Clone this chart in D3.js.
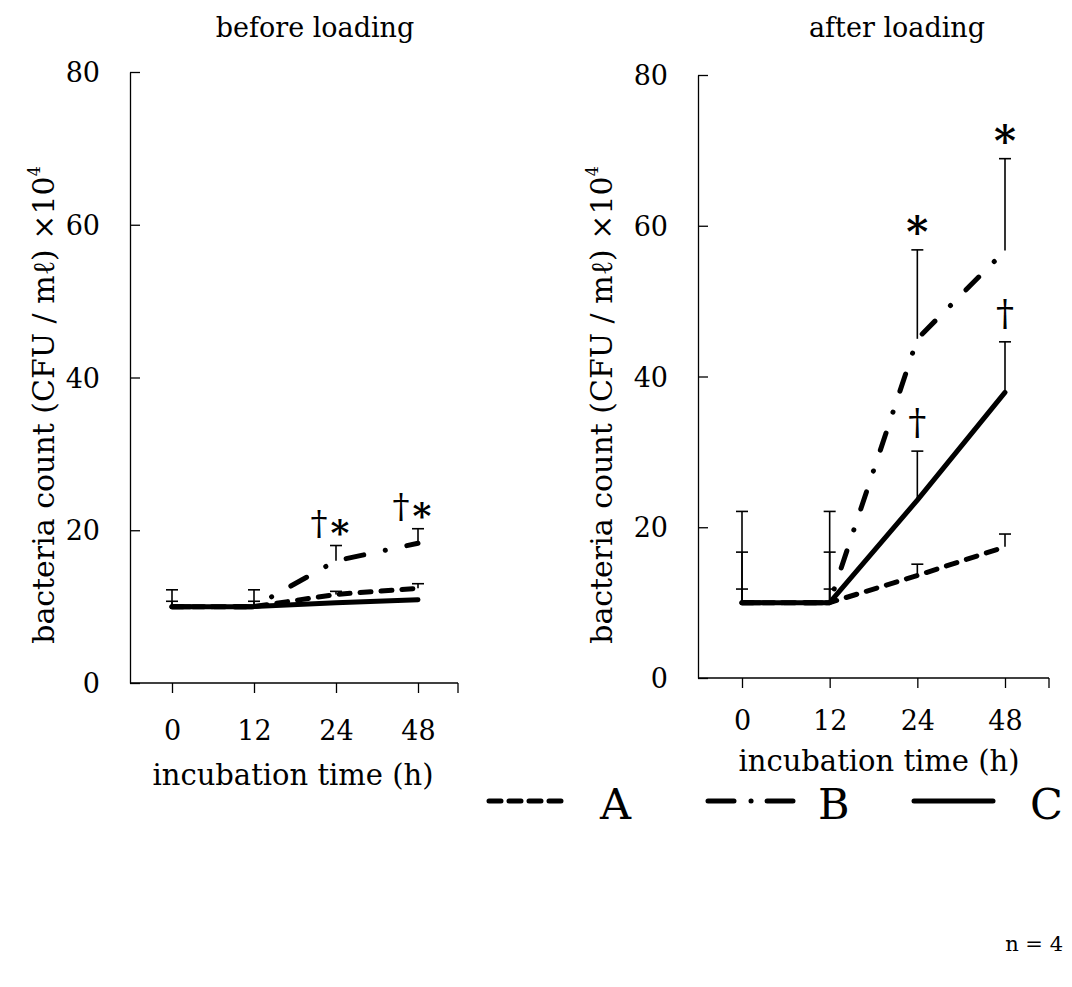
<!DOCTYPE html>
<html>
<head>
<meta charset="utf-8">
<script src="https://cdn.jsdelivr.net/npm/d3@7"></script>
<style>
  html, body { margin: 0; padding: 0; background: #fff; }
  svg { display: block; }
  text { font-family: "DejaVu Serif", serif; fill: #000; }
</style>
</head>
<body>
<svg id="chart" width="1072" height="987"></svg>
<script>
// ---------- data ----------
const times = ["0", "12", "24", "48"];
const yTicks = [0, 20, 40, 60, 80];
const seriesNames = ["A", "B", "C"];

// before loading (means and SD)
const beforeA = [10, 10, 11.6, 12.4];
const beforeB = [10, 10, 16.0, 18.3];
const beforeC = [10, 10, 10.5, 10.9];
const beforeErrA = [0.7, 0.7, 0.4, 0.6];
const beforeErrB = [2.2, 2.2, 2.0, 1.9];
const beforeErrC = [0, 0, 0, 0];

// after loading (means and SD)
const afterA = [10, 10, 13.6, 17.4];
const afterB = [10, 10, 45.0, 56.7];
const afterC = [10, 10, 23.6, 37.9];
const afterErrA = [1.8, 1.8, 1.5, 1.7];
const afterErrB = [12.1, 12.1, 11.8, 12.2];
const afterErrC = [6.7, 6.7, 6.5, 6.7];

// significance marks: [time, series, symbol]
const beforeMarks = [["24", "B", "†"], ["24", "B", "*"], ["48", "B", "†"], ["48", "B", "*"]];
const afterMarks = [["24", "B", "*"], ["48", "B", "*"], ["24", "C", "†"], ["48", "C", "†"]];

// ---------- styles ----------
const styles = {
  A: { dash: "11,10", width: 5 },
  B: { dash: "18,22,0.1,22", width: 5 },
  C: { dash: null, width: 5 }
};

const svg = d3.select("#chart");

function panel(cfg) {
  const g = svg.append("g");
  const x = d3.scalePoint().domain(times).range([cfg.x0, cfg.x1]);
  const y = d3.scaleLinear().domain([0, 80]).range([cfg.yBottom, cfg.yTop]);

  // y axis
  const yAxis = d3.axisLeft(y).tickValues(yTicks).tickSizeInner(-10).tickSizeOuter(0).tickPadding(0);
  const ya = g.append("g").attr("transform", `translate(${cfg.axisX},0)`).call(yAxis);
  ya.select(".domain").attr("stroke", "#000").attr("stroke-width", 1.3);
  ya.selectAll(".tick line").attr("stroke", "#000").attr("stroke-width", 1.3);
  ya.selectAll(".tick text").attr("x", -30).attr("font-size", 27)
    .attr("font-family", "DejaVu Serif").attr("dy", "0.36em").attr("text-anchor", "end");

  // x axis
  const xAxis = d3.axisBottom(x).tickSizeInner(10).tickSizeOuter(0).tickPadding(0);
  const xa = g.append("g").attr("transform", `translate(0,${cfg.yBottom})`).call(xAxis);
  xa.select(".domain").remove();
  xa.append("line").attr("x1", cfg.axisX).attr("x2", cfg.axisEnd).attr("y1", 0).attr("y2", 0)
    .attr("stroke", "#000").attr("stroke-width", 1.3);
  xa.append("line").attr("x1", cfg.axisEnd).attr("x2", cfg.axisEnd).attr("y1", 0).attr("y2", 10)
    .attr("stroke", "#000").attr("stroke-width", 1.3);
  xa.selectAll(".tick line").attr("stroke", "#000").attr("stroke-width", 1.3);
  xa.selectAll(".tick text").attr("y", cfg.xLabelDy).attr("dy", "0.36em").attr("font-size", 27)
    .attr("font-family", "DejaVu Serif");

  // x title
  g.append("text").attr("x", cfg.xTitleX).attr("y", cfg.xTitleY).attr("text-anchor", "middle")
    .attr("font-size", 29).text("incubation time (h)");

  // panel title
  g.append("text").attr("x", cfg.titleX).attr("y", 37).attr("text-anchor", "middle")
    .attr("font-size", 27).text(cfg.title);

  // y title
  const yt = g.append("text").attr("transform", `translate(${cfg.yTitleX},${cfg.yTitleY}) rotate(-90)`)
    .attr("text-anchor", "middle").attr("font-size", 30);
  yt.append("tspan").text("bacteria count (CFU / mℓ) ×10");
  yt.append("tspan").attr("dy", "-0.9em").attr("font-size", 16).text("4");

  const data = cfg.data;
  // error bars
  seriesNames.forEach(s => {
    data[s].forEach((v, i) => {
      const e = data["err" + s][i];
      if (!e) return;
      const cx = x(times[i]);
      g.append("line").attr("x1", cx).attr("x2", cx).attr("y1", y(v)).attr("y2", y(v + e))
        .attr("stroke", "#000").attr("stroke-width", 1.6);
      g.append("line").attr("x1", cx - 6).attr("x2", cx + 6).attr("y1", y(v + e)).attr("y2", y(v + e))
        .attr("stroke", "#000").attr("stroke-width", 1.6);
    });
  });

  // lines
  const line = d3.line().x((d, i) => x(times[i])).y(d => y(d));
  ["A", "B", "C"].forEach(s => {
    g.append("path").datum(data[s]).attr("d", line).attr("fill", "none")
      .attr("stroke", "#000").attr("stroke-width", styles[s].width)
      .attr("stroke-linecap", "round").attr("stroke-linejoin", "round")
      .attr("stroke-dasharray", styles[s].dash);
  });

  // marks
  cfg.marks.forEach(([t, s, sym]) => {
    const i = times.indexOf(t);
    const top = y(data[s][i] + data["err" + s][i]);
    const off = cfg.markOffset(sym);
    g.append("text").attr("x", x(t) + off.dx).attr("y", top + off.dy)
      .attr("text-anchor", "middle")
      .attr("font-family", sym === "*" ? "DejaVu Sans" : "DejaVu Serif")
      .attr("font-weight", sym === "*" ? "bold" : "normal")
      .attr("font-size", off.size).text(sym);
  });
}

panel({
  title: "before loading", titleX: 315,
  x0: 172, x1: 418, axisX: 130, axisEnd: 458, yBottom: 683, yTop: 72,
  xLabelDy: 47, xTitleX: 293, xTitleY: 785,
  yTitleX: 54, yTitleY: 405,
  data: { A: beforeA, B: beforeB, C: beforeC, errA: beforeErrA, errB: beforeErrB, errC: beforeErrC },
  marks: beforeMarks,
  markOffset: sym => sym === "†" ? { dx: -17, dy: -11, size: 34 } : { dx: 4, dy: -1, size: 36 }
});

panel({
  title: "after loading", titleX: 897,
  x0: 742, x1: 1005, axisX: 698, axisEnd: 1049, yBottom: 678, yTop: 75,
  xLabelDy: 42, xTitleX: 879, xTitleY: 771,
  yTitleX: 612, yTitleY: 405,
  data: { A: afterA, B: afterB, C: afterC, errA: afterErrA, errB: afterErrB, errC: afterErrC },
  marks: afterMarks,
  markOffset: sym => sym === "†" ? { dx: 0, dy: -17, size: 36 } : { dx: 0, dy: -3, size: 42 }
});

// legend
const legend = svg.append("g");
const legendItems = [
  { s: "A", x1: 489, x2: 563, tx: 600 },
  { s: "B", x1: 708, x2: 793, tx: 818 },
  { s: "C", x1: 914, x2: 993, tx: 1030 }
];
const legendDash = { A: "12,8", B: "26,17,0.1,16", C: null };
legendItems.forEach(d => {
  legend.append("line").attr("x1", d.x1).attr("x2", d.x2).attr("y1", 801).attr("y2", 801)
    .attr("stroke", "#000").attr("stroke-width", 5).attr("stroke-linecap", "round")
    .attr("stroke-dasharray", legendDash[d.s]);
  legend.append("text").attr("x", d.tx).attr("y", 819).attr("font-size", 43).text(d.s);
});

svg.append("text").attr("x", 1063).attr("y", 951).attr("text-anchor", "end")
  .attr("font-size", 21).text("n = 4");
</script>
</body>
</html>
